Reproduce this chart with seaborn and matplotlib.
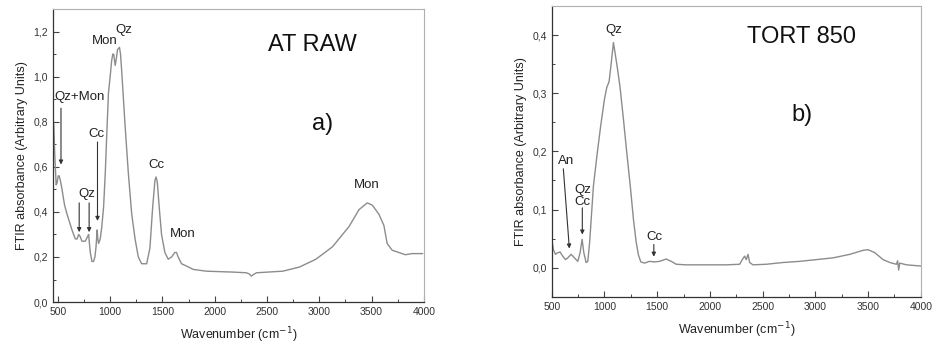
import matplotlib
matplotlib.use("Agg")
import matplotlib.pyplot as plt
from matplotlib.ticker import FuncFormatter, MultipleLocator
import seaborn as sns
import pandas as pd

# --- FTIR spectrum of the raw sample (AT RAW) ---
raw_wn = [462, 471, 485, 494, 505, 513, 525, 541, 565, 589, 636, 668, 685, 700,
          715, 731, 763, 785, 795, 805, 811, 827, 842, 855, 865, 877, 883, 890,
          906, 920, 938, 955, 969, 985, 1001, 1015, 1026, 1035, 1049, 1060, 1071,
          1090, 1100, 1112, 1144, 1175, 1207, 1239, 1270, 1302, 1350, 1381, 1407,
          1429, 1440, 1452, 1470, 1492, 1524, 1556, 1588, 1619, 1635, 1651, 1683,
          1730, 1794, 1920, 2174, 2301, 2330, 2350, 2370, 2400, 2650, 2808, 2967,
          3125, 3284, 3379, 3458, 3506, 3569, 3617, 3648, 3696, 3759, 3823, 3886,
          3988]
raw_abs = [0.79, 0.66, 0.52, 0.53, 0.56, 0.56, 0.54, 0.50, 0.43, 0.39, 0.32, 0.28,
           0.28, 0.30, 0.29, 0.27, 0.27, 0.29, 0.30, 0.25, 0.22, 0.18, 0.18, 0.20,
           0.24, 0.32, 0.28, 0.26, 0.28, 0.33, 0.42, 0.58, 0.75, 0.93, 1.00, 1.07,
           1.10, 1.10, 1.05, 1.08, 1.12, 1.13, 1.10, 1.02, 0.78, 0.57, 0.39, 0.28,
           0.20, 0.17, 0.17, 0.24, 0.42, 0.54, 0.555, 0.53, 0.42, 0.30, 0.22, 0.19,
           0.20, 0.22, 0.22, 0.20, 0.17, 0.16, 0.145, 0.137, 0.133, 0.13, 0.125,
           0.115, 0.122, 0.13, 0.137, 0.155, 0.19, 0.245, 0.335, 0.41, 0.44, 0.43,
           0.39, 0.34, 0.26, 0.23, 0.22, 0.21, 0.215, 0.215]

# --- FTIR spectrum of the sample fired at 850 (TORT 850) ---
tort_wn = [500, 516, 535, 557, 579, 604, 630, 652, 684, 715, 747, 769, 788, 804,
           826, 842, 860, 895, 930, 965, 1000, 1022, 1044, 1060, 1085, 1100, 1125,
           1148, 1180, 1212, 1245, 1275, 1300, 1322, 1345, 1380, 1427, 1475, 1522,
           1586, 1633, 1681, 1775, 1902, 2155, 2282, 2307, 2329, 2345, 2361, 2377,
           2408, 2535, 2693, 2852, 3010, 3168, 3326, 3453, 3500, 3563, 3642, 3706,
           3769, 3780, 3790, 3800, 3864, 4000]
tort_abs = [0.049, 0.031, 0.023, 0.026, 0.027, 0.020, 0.014, 0.017, 0.023, 0.017,
            0.011, 0.026, 0.049, 0.026, 0.009, 0.011, 0.045, 0.140, 0.195, 0.245,
            0.290, 0.310, 0.320, 0.345, 0.387, 0.370, 0.340, 0.310, 0.255, 0.197,
            0.140, 0.083, 0.045, 0.022, 0.010, 0.008, 0.011, 0.010, 0.011, 0.015,
            0.011, 0.006, 0.005, 0.005, 0.005, 0.006, 0.014, 0.020, 0.014, 0.023,
            0.009, 0.005, 0.006, 0.009, 0.011, 0.014, 0.017, 0.023, 0.030, 0.031,
            0.026, 0.014, 0.009, 0.006, 0.012, -0.004, 0.008, 0.005, 0.003]

x_ticks = [500, 1000, 1500, 2000, 2500, 3000, 3500, 4000]

sns.set_style("ticks")
plt.rcParams["font.family"] = ["Liberation Sans", "DejaVu Sans"]
plt.rcParams["xtick.direction"] = "in"
plt.rcParams["ytick.direction"] = "in"

fig = plt.figure(figsize=(9.32, 3.48), dpi=100)
ax1 = fig.add_axes([0.0569, 0.132, 0.398, 0.842])
ax2 = fig.add_axes([0.592, 0.147, 0.396, 0.836])

line_col = "#8c8c8c"
txt_col = "#222222"

raw_df = pd.DataFrame({"wn": raw_wn, "a": raw_abs})
tort_df = pd.DataFrame({"wn": tort_wn, "a": tort_abs})
sns.lineplot(data=raw_df, x="wn", y="a", ax=ax1, color=line_col, lw=1.0,
             estimator=None, sort=False)
sns.lineplot(data=tort_df, x="wn", y="a", ax=ax2, color=line_col, lw=1.0,
             estimator=None, sort=False)

comma = FuncFormatter(lambda v, p: f"{v:.1f}".replace(".", ","))

for ax, ylim, ymaj, ymin in [(ax1, (0, 1.3), 0.2, 0.1), (ax2, (-0.05, 0.45), 0.1, 0.05)]:
    ax.set_ylim(*ylim)
    ax.set_xticks(x_ticks)
    ax.xaxis.set_minor_locator(MultipleLocator(250))
    ax.yaxis.set_major_locator(MultipleLocator(ymaj))
    ax.yaxis.set_minor_locator(MultipleLocator(ymin))
    ax.yaxis.set_major_formatter(comma)
    ax.tick_params(which="major", length=4, width=0.8, labelsize=7.5,
                   colors="#444444", labelcolor="#333333")
    ax.tick_params(which="minor", length=2.5, width=0.7, colors="#444444")
    ax.set_xlabel("Wavenumber (cm$^{-1}$)", fontsize=9, color=txt_col, labelpad=6)
    ax.set_ylabel("FTIR absorbance (Arbitrary Units)", fontsize=9, color=txt_col)
    for side in ("left", "bottom"):
        ax.spines[side].set_color("#333333")
        ax.spines[side].set_linewidth(0.9)
    for side in ("top", "right"):
        ax.spines[side].set_color("#b0b0b0")
        ax.spines[side].set_linewidth(0.8)

ax1.set_xlim(455, 4000)
ax2.set_xlim(500, 4000)

arrow = dict(arrowstyle="-|>", color="#333333", lw=0.8, mutation_scale=6,
             shrinkA=0, shrinkB=0)
small = dict(fontsize=9.5, color=txt_col, ha="center", va="center")
big = dict(fontsize=17, color="#111111", ha="center", va="center")

# Band assignments, raw sample
ax1.text(712, 0.91, "Qz+Mon", **small)
ax1.annotate("", xy=(531, 0.61), xytext=(531, 0.86), arrowprops=arrow)
ax1.text(775, 0.48, "Qz", **small)
ax1.annotate("", xy=(705, 0.31), xytext=(705, 0.44), arrowprops=arrow)
ax1.annotate("", xy=(800, 0.31), xytext=(800, 0.44), arrowprops=arrow)
ax1.text(867, 0.745, "Cc", **small)
ax1.annotate("", xy=(880, 0.36), xytext=(880, 0.71), arrowprops=arrow)
ax1.text(950, 1.16, "Mon", **small)
ax1.text(1135, 1.205, "Qz", **small)
ax1.text(1444, 0.61, "Cc", **small)
ax1.text(1691, 0.30, "Mon", **small)
ax1.text(3452, 0.52, "Mon", **small)
ax1.text(2930, 1.14, "AT RAW", **big)
ax1.text(3030, 0.79, "a)", **big)

# Band assignments, fired sample
ax2.text(1085, 0.408, "Qz", **small)
ax2.text(636, 0.183, "An", **small)
ax2.annotate("", xy=(667, 0.033), xytext=(610, 0.17), arrowprops=arrow)
ax2.text(794, 0.133, "Qz", **small)
ax2.text(794, 0.113, "Cc", **small)
ax2.annotate("", xy=(790, 0.057), xytext=(790, 0.103), arrowprops=arrow)
ax2.text(1474, 0.053, "Cc", **small)
ax2.annotate("", xy=(1468, 0.019), xytext=(1468, 0.04), arrowprops=arrow)
ax2.text(2866, 0.397, "TORT 850", **big)
ax2.text(2877, 0.263, "b)", **big)

fig.savefig("out.png", dpi=100)
